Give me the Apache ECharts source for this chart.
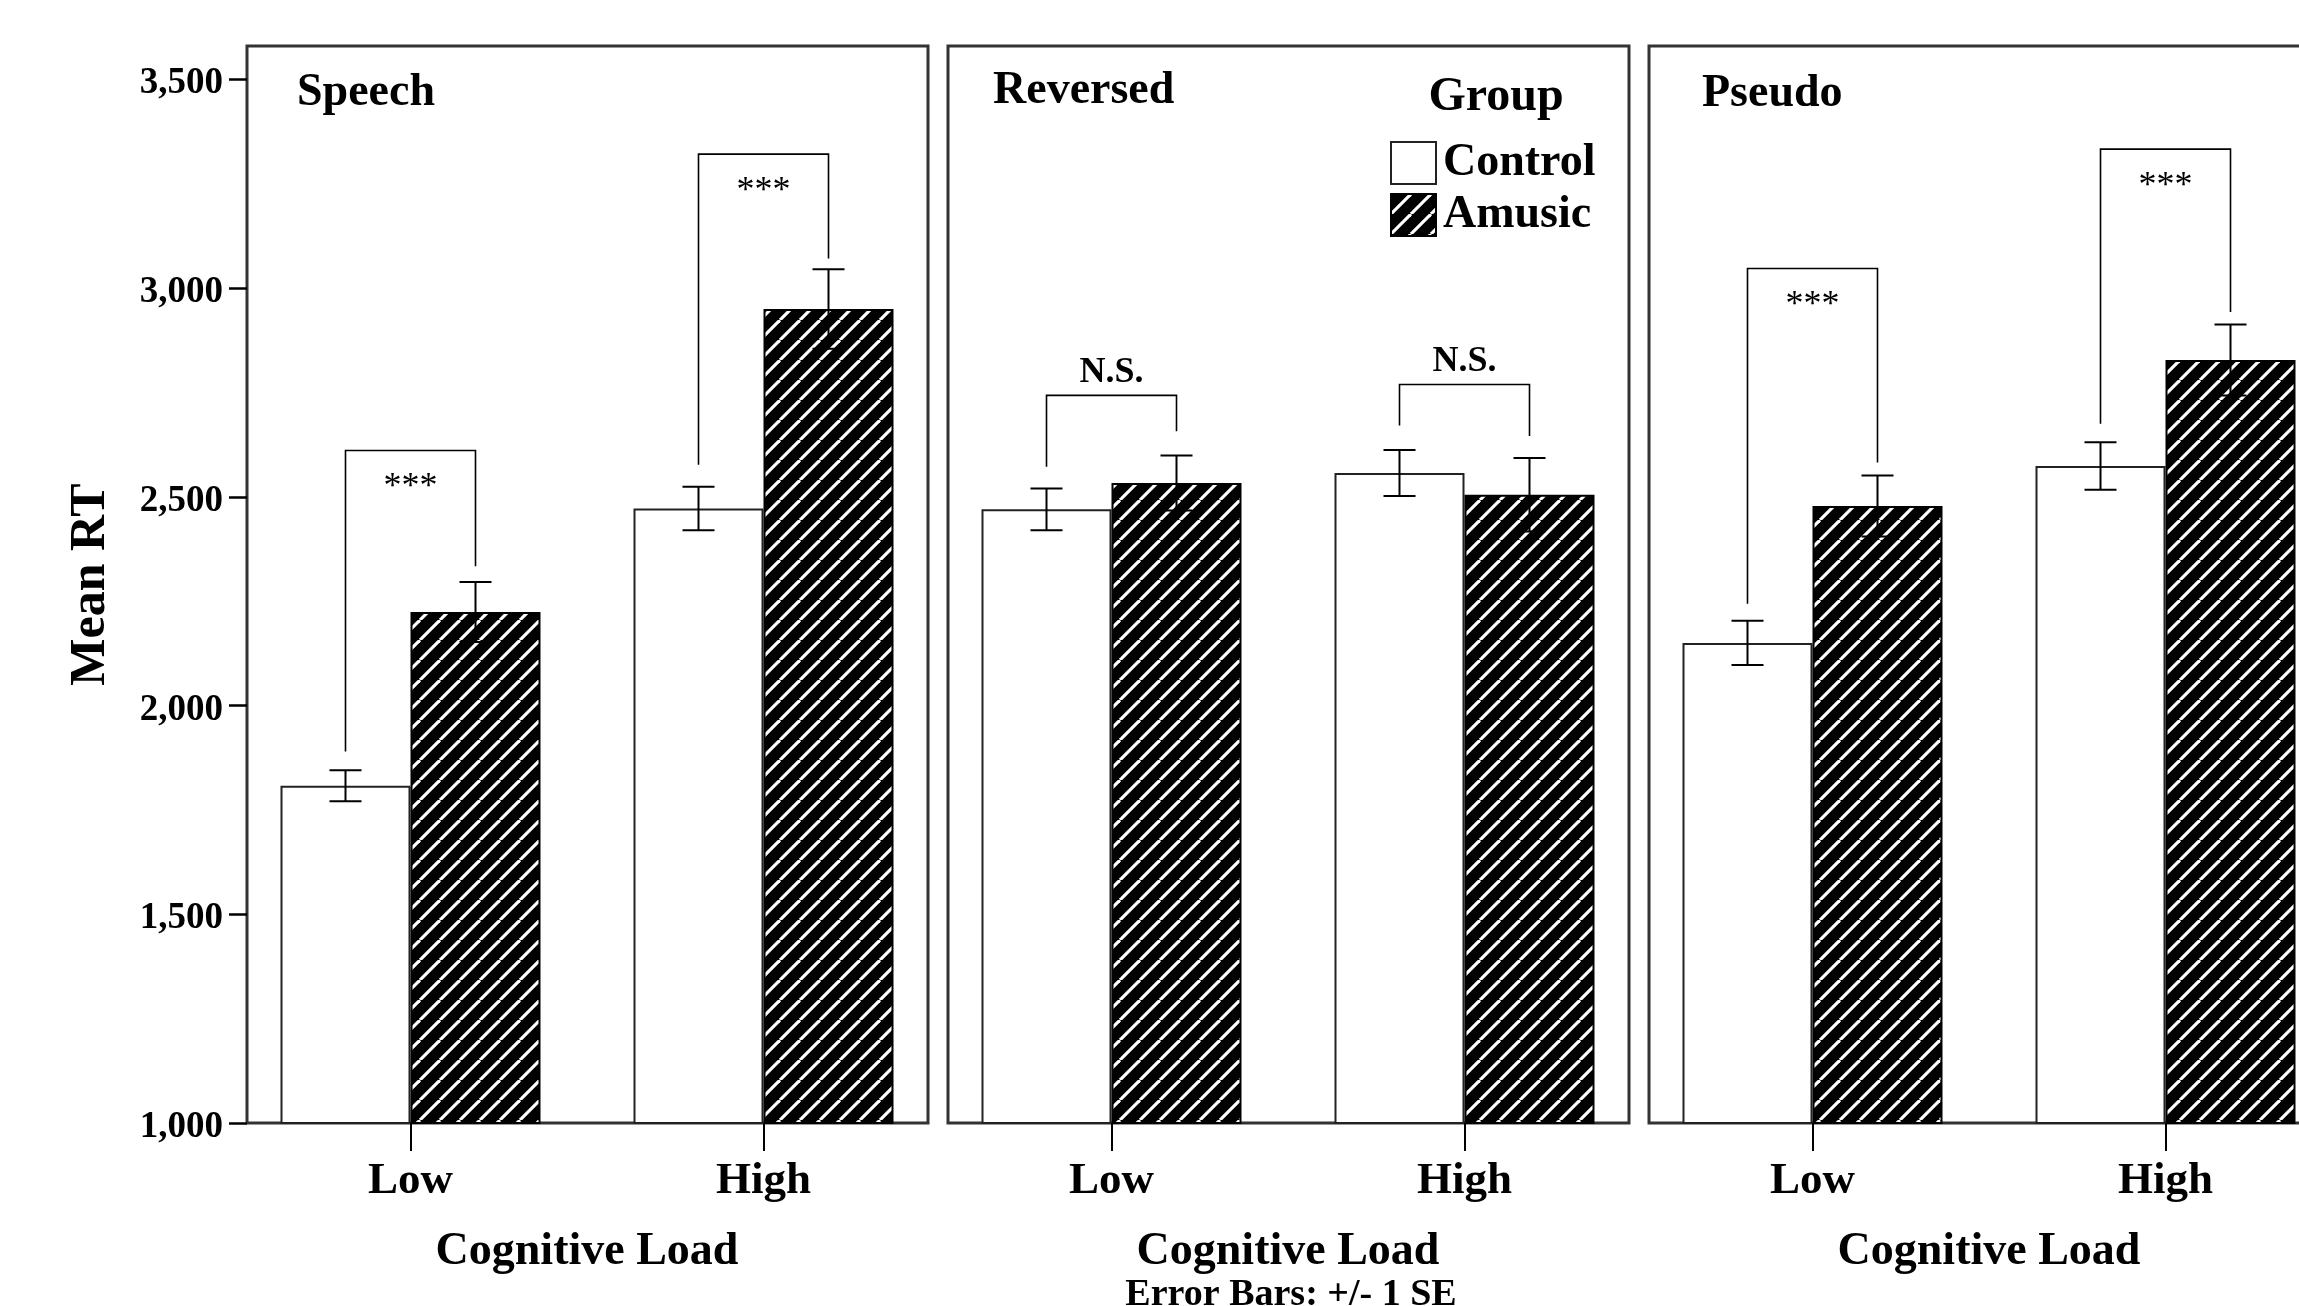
<!DOCTYPE html>
<html><head><meta charset="utf-8">
<script src="https://cdn.jsdelivr.net/npm/echarts@6/dist/echarts.min.js"></script>
<style>html,body{margin:0;padding:0;background:#fff}#c{width:2299px;height:1306px}</style>
</head><body><div id="c"></div><script>
// ---------- data ----------
const conditions = ['Speech', 'Reversed', 'Pseudo'];
const loads = ['Low', 'High'];
const groups = ['Control', 'Amusic'];
const controlMean = [[1808, 2472], [2470, 2557], [2150, 2574]];
const controlSE   = [[37, 52], [50, 55], [53, 57]];
const amusicMean  = [[2224, 2950], [2533, 2505], [2478, 2828]];
const amusicSE    = [[72, 95], [66, 88], [73, 85]];
const bracketTop      = [[2611, 3321], [2743, 2769], [3047, 3333]];
const bracketLeftEnd  = [[1890, 2577], [2572, 2671], [2244, 2675]];
const bracketRightEnd = [[2334, 3071], [2657, 2646], [2582, 2943]];
const sigLabels = [['***', '***'], ['N.S.', 'N.S.'], ['***', '***']];
const yTicks = [1000, 1500, 2000, 2500, 3000, 3500];
const yMin = 1000, yMax = 3580;
const yTitle = 'Mean RT';
const xTitle = 'Cognitive Load';
const legendTitle = 'Group';
const footnote = 'Error Bars: +/- 1 SE';

// ---------- layout / style ----------
const FONT = '"Liberation Serif", "Times New Roman", serif';
const PANEL_LEFT = [247, 948, 1649];
const PANEL_W = 681, TOP = 46, H = 1077;
const DATA_OFF = -13, DATA_W = 706;
const BAR_W = 130, CAP = 16;

function makeHatch() {
  const P = 20, c = document.createElement('canvas');
  c.width = P; c.height = P;
  const g = c.getContext('2d');
  g.fillStyle = '#000'; g.fillRect(0, 0, P, P);
  g.strokeStyle = '#fff'; g.lineWidth = 3.2;
  for (let k = -1; k <= 1; k++) {
    g.beginPath(); g.moveTo(k * P, P); g.lineTo(k * P + P, 0); g.stroke();
  }
  return c;
}
const hatch = { image: makeHatch(), repeat: 'repeat' };

const grids = [], xAxes = [], yAxes = [], series = [];
// border grids (panels)
for (let p = 0; p < 3; p++) {
  grids.push({ left: PANEL_LEFT[p], top: TOP, width: PANEL_W, height: H, show: true,
    borderColor: '#333', borderWidth: 3, backgroundColor: 'transparent',
    containLabel: false, outerBoundsMode: 'none' });
  xAxes.push({ gridIndex: p, type: 'category', data: loads, show: false });
  yAxes.push({ gridIndex: p, type: 'value', min: yMin, max: yMax, show: p === 0,
    axisLine: { show: false }, splitLine: { show: false },
    axisTick: { show: true, length: 18, customValues: yTicks, lineStyle: { color: '#000', width: 2.5 } },
    axisLabel: { customValues: yTicks, margin: 24, color: '#000', fontFamily: FONT, fontWeight: 'bold', fontSize: 37,
      formatter: v => '{n|' + Number(v).toLocaleString('en-US') + '}',
      rich: { n: { fontFamily: FONT, fontWeight: 'bold', fontSize: 37, color: '#000', padding: [9, 0, 0, 0] } } },
    name: p === 0 ? yTitle : '', nameLocation: 'middle', nameGap: 131,
    nameTextStyle: { color: '#000', fontFamily: FONT, fontWeight: 'bold', fontSize: 50 } });
}
// data grids
for (let p = 0; p < 3; p++) {
  grids.push({ left: PANEL_LEFT[p] + DATA_OFF, top: TOP, width: DATA_W, height: H,
    containLabel: false, outerBoundsMode: 'none' });
  xAxes.push({ gridIndex: 3 + p, type: 'category', data: loads,
    axisLine: { show: false }, splitLine: { show: false },
    axisTick: { show: true, alignWithLabel: true, length: 28, lineStyle: { color: '#000', width: 2 } },
    axisLabel: { margin: 36, color: '#000', fontFamily: FONT, fontWeight: 'bold', fontSize: 45 },
    name: xTitle, nameLocation: 'middle', nameGap: 106,
    nameTextStyle: { color: '#000', fontFamily: FONT, fontWeight: 'bold', fontSize: 46 } });
  yAxes.push({ gridIndex: 3 + p, type: 'value', min: yMin, max: yMax, show: false, splitLine: { show: false } });

  const ax = { xAxisIndex: 3 + p, yAxisIndex: 3 + p };
  series.push(Object.assign({ type: 'bar', name: groups[0], data: controlMean[p], barWidth: BAR_W, barGap: '0%',
    itemStyle: { color: '#fff', borderColor: '#222', borderWidth: 2 }, z: 2 }, ax));
  series.push(Object.assign({ type: 'bar', name: groups[1], data: amusicMean[p], barWidth: BAR_W, barGap: '0%',
    itemStyle: { color: hatch, borderColor: '#000', borderWidth: 2 }, z: 2 }, ax));

  const errSeries = (means, ses, off) => Object.assign({
    type: 'custom', silent: true, z: 4,
    data: loads.map((_, i) => [i, means[i], ses[i]]),
    renderItem: (params, api) => {
      const x = api.value(0), m = api.value(1), se = api.value(2);
      const cx = api.coord([x, m])[0] + off;
      const yt = api.coord([x, m + se])[1], yb = api.coord([x, m - se])[1];
      const st = { stroke: '#000', lineWidth: 2 };
      return { type: 'group', children: [
        { type: 'line', shape: { x1: cx, y1: yt, x2: cx, y2: yb }, style: st },
        { type: 'line', shape: { x1: cx - CAP, y1: yt, x2: cx + CAP, y2: yt }, style: st },
        { type: 'line', shape: { x1: cx - CAP, y1: yb, x2: cx + CAP, y2: yb }, style: st } ] };
    } }, ax);
  series.push(errSeries(controlMean[p], controlSE[p], -BAR_W / 2));
  series.push(errSeries(amusicMean[p], amusicSE[p], BAR_W / 2));

  series.push(Object.assign({
    type: 'custom', silent: true, z: 5,
    data: loads.map((_, i) => [i, bracketTop[p][i], bracketLeftEnd[p][i], bracketRightEnd[p][i]]),
    renderItem: (params, api) => {
      const x = api.value(0);
      const c = api.coord([x, api.value(1)]);
      const lx = c[0] - BAR_W / 2, rx = c[0] + BAR_W / 2, ty = c[1];
      const ly = api.coord([x, api.value(2)])[1], ry = api.coord([x, api.value(3)])[1];
      const lab = sigLabels[p][params.dataIndex];
      const isStar = lab.indexOf('*') >= 0;
      return { type: 'group', children: [
        { type: 'polyline', shape: { points: [[lx, ly], [lx, ty], [rx, ty], [rx, ry]] },
          style: { stroke: '#000', lineWidth: 1.6, fill: null } },
        { type: 'text', style: { text: lab, x: c[0], y: isStar ? ty + 37 : ty - 23,
          align: 'center', verticalAlign: 'middle', textAlign: 'center', textVerticalAlign: 'middle',
          fill: '#000', font: (isStar ? 'normal ' : 'bold ') + '36px ' + FONT } } ] };
    } }, ax));
}

const titleX = [297, 993, 1702], titleY = [93, 91, 94];
const graphics = conditions.map((t, i) => ({ type: 'text', x: titleX[i], y: titleY[i], silent: true,
  style: { text: t, font: 'bold 46px ' + FONT, fill: '#000', align: 'left', verticalAlign: 'middle' } }));
graphics.push({ type: 'text', x: 1496, y: 98, silent: true,
  style: { text: legendTitle, font: 'bold 48px ' + FONT, fill: '#000', align: 'center', verticalAlign: 'middle' } });
graphics.push({ type: 'text', x: 1291, y: 1295, silent: true,
  style: { text: footnote, font: 'bold 38px ' + FONT, fill: '#000', align: 'center', verticalAlign: 'middle' } });

const chart = echarts.init(document.getElementById('c'), null, { renderer: 'canvas' });
chart.setOption({
  animation: false,
  backgroundColor: '#fff',
  grid: grids, xAxis: xAxes, yAxis: yAxes, series: series,
  legend: { data: groups, orient: 'vertical', left: 1390, top: 140, padding: 0, itemWidth: 45, itemHeight: 42, itemGap: 6,
    icon: 'rect', selectedMode: false,
    textStyle: { color: '#000', fontFamily: FONT, fontWeight: 'bold', fontSize: 46, padding: [6, 0, 0, 2] } },
  graphic: graphics
});
</script></body></html>
